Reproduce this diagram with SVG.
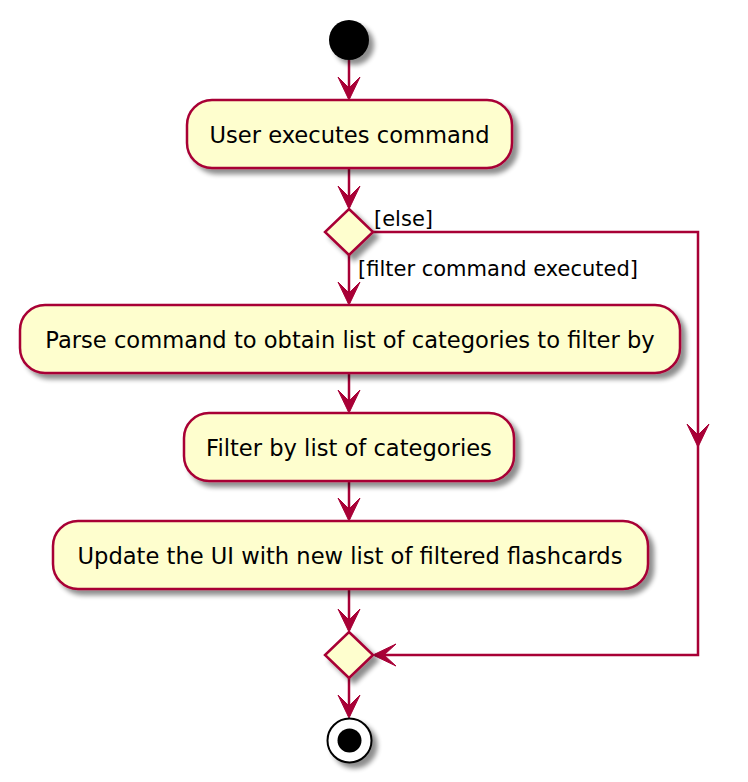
<svg xmlns="http://www.w3.org/2000/svg" width="748" height="782" viewBox="0 0 748 782">
<defs>
<filter id="sh" x="-20%" y="-20%" width="150%" height="160%">
<feGaussianBlur in="SourceAlpha" stdDeviation="2.5"/>
<feOffset dx="5" dy="5" result="b"/>
<feComponentTransfer><feFuncA type="linear" slope="0.45"/></feComponentTransfer>
<feMerge><feMergeNode/><feMergeNode in="SourceGraphic"/></feMerge>
</filter>
</defs>
<style>
.act{fill:#FEFECE;stroke:#A80036;stroke-width:2.5}
.t{font-family:"DejaVu Sans",sans-serif;font-size:22.6px;fill:#000;text-anchor:middle}
.lb{font-family:"DejaVu Sans",sans-serif;font-size:21px;fill:#000}
.ln{fill:none;stroke:#A80036;stroke-width:2.5}
.ah{fill:#A80036;stroke:#A80036;stroke-width:1}
</style>
<rect width="748" height="782" fill="#fff"/>
<g id="connectors">
<line class="ln" x1="349" y1="60" x2="349" y2="98"/>
<polygon class="ah" points="349,100 338,77 349,88 360,77"/>
<line class="ln" x1="349" y1="168" x2="349" y2="207"/>
<polygon class="ah" points="349,209 338,186 349,197 360,186"/>
<line class="ln" x1="349" y1="255" x2="349" y2="303"/>
<polygon class="ah" points="349,305 338,282 349,293 360,282"/>
<line class="ln" x1="349" y1="373" x2="349" y2="411"/>
<polygon class="ah" points="349,413 338,390 349,401 360,390"/>
<line class="ln" x1="349" y1="481" x2="349" y2="519"/>
<polygon class="ah" points="349,521 338,498 349,509 360,498"/>
<line class="ln" x1="349" y1="589" x2="349" y2="630"/>
<polygon class="ah" points="349,632 338,609 349,620 360,609"/>
<line class="ln" x1="349" y1="678" x2="349" y2="716"/>
<polygon class="ah" points="349,718 338,695 349,706 360,695"/>
<polyline class="ln" points="373,232 698,232 698,655 375,655"/>
<polygon class="ah" points="698,447 687,424 698,435 709,424"/>
<polygon class="ah" points="373,655 396,644 384,655 396,666"/>
<text class="lb" x="374" y="226">[else]</text>
<text class="lb" x="358" y="276">[filter command executed]</text>
</g>
<g id="start" filter="url(#sh)">
<circle cx="349" cy="40" r="20" fill="#000"/>
</g>
<g id="userExecutes">
<rect class="act" x="187" y="100" width="325" height="68" rx="25" filter="url(#sh)"/>
<text class="t" x="349.5" y="143">User executes command</text>
</g>
<g id="decision1">
<polygon class="act" points="349,209 373,232 349,255 325,232" filter="url(#sh)"/>
</g>
<g id="parse">
<rect class="act" x="20" y="305" width="660" height="68" rx="25" filter="url(#sh)"/>
<text class="t" x="350" y="348">Parse command to obtain list of categories to filter by</text>
</g>
<g id="filterBy">
<rect class="act" x="184" y="413" width="330" height="68" rx="25" filter="url(#sh)"/>
<text class="t" x="349" y="456">Filter by list of categories</text>
</g>
<g id="updateUI">
<rect class="act" x="53" y="521" width="595" height="68" rx="25" filter="url(#sh)"/>
<text class="t" x="350" y="564">Update the UI with new list of filtered flashcards</text>
</g>
<g id="merge">
<polygon class="act" points="349,632 373,655 349,678 325,655" filter="url(#sh)"/>
</g>
<g id="end" filter="url(#sh)">
<circle cx="349.5" cy="740.5" r="22" fill="#fff" stroke="#000" stroke-width="2"/>
<circle cx="349.5" cy="740.5" r="12" fill="#000"/>
</g>
</svg>
